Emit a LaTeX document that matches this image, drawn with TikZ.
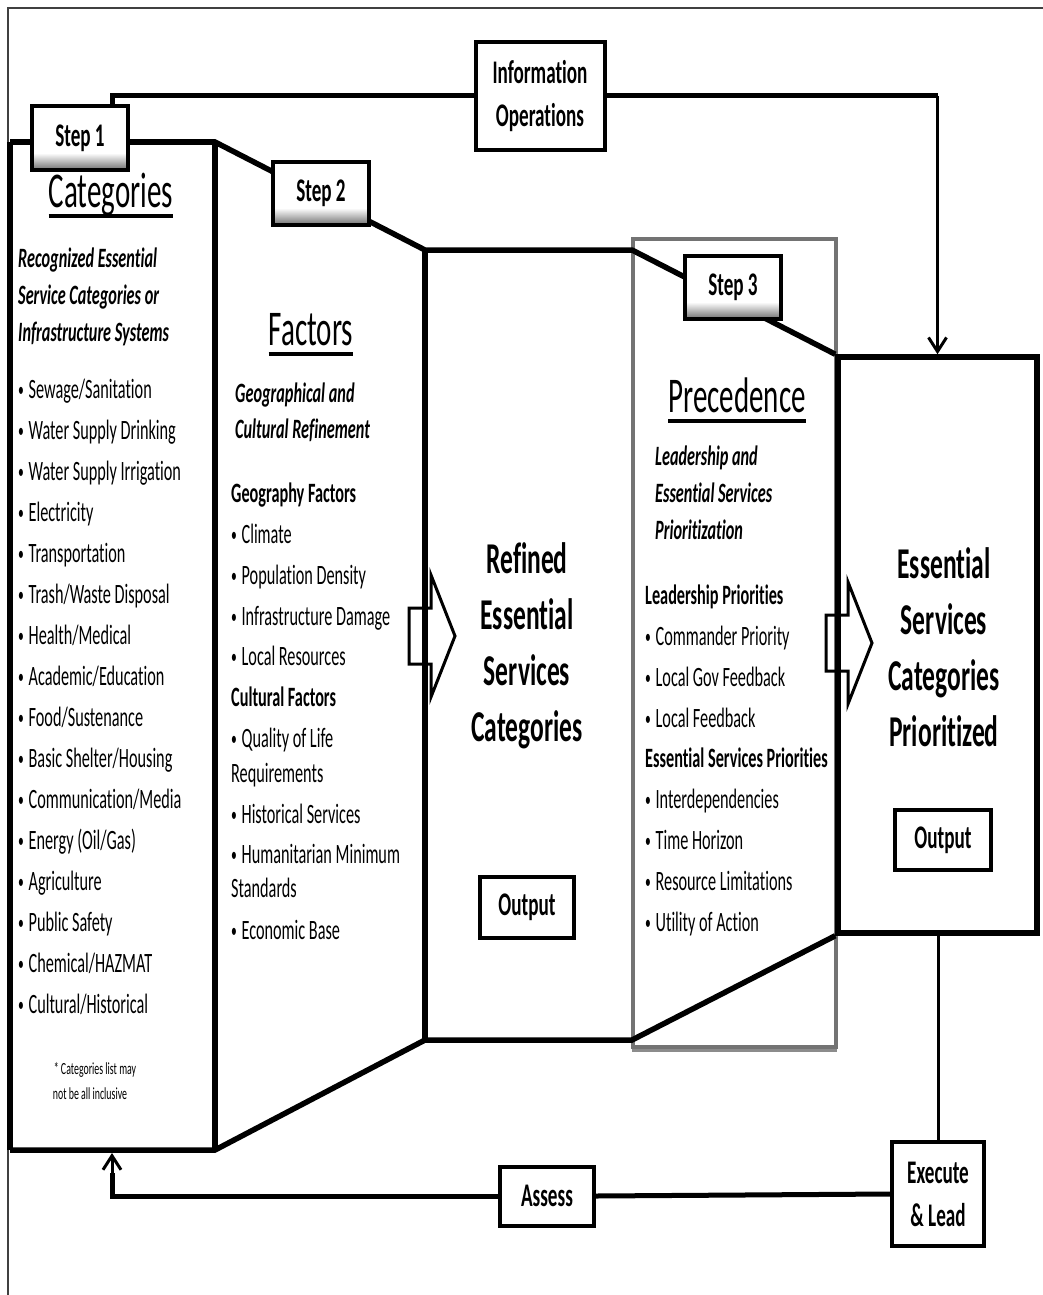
\documentclass[tikz,border=0pt]{standalone}
\usepackage{fontspec}
\setmainfont{Carlito}[FakeStretch=0.58, Ligatures=NoCommon]
\usetikzlibrary{arrows.meta,calc}

\newcommand{\txtbody}{\fontsize{28pt}{34pt}\selectfont}
\newcommand{\txthead}{\fontsize{50pt}{60pt}\selectfont}
\newcommand{\txtbig}{\fontsize{44pt}{56pt}\selectfont\bfseries}
\newcommand{\txtbox}{\fontsize{33pt}{43pt}\selectfont\bfseries}
\newcommand{\txtnote}{\fontsize{17pt}{25pt}\selectfont}
\newcommand{\bul}{{\fontsize{20pt}{20pt}\selectfont\raisebox{1.5pt}{\textbullet}}\,}

% grey fade along the lower edge of the step labels
\pgfdeclareverticalshading{stepshade}{100bp}{color(0bp)=(black!55); color(25bp)=(black!55); color(38bp)=(white); color(100bp)=(white)}

\tikzset{
  panel/.style={line width=5.5pt, line join=miter},
  loopline/.style={line width=5pt},
  thinline/.style={line width=3pt},
  tip/.style={-{Straight Barb[length=14pt,width=18pt]}},
  box/.style={draw, line width=4pt, fill=white, font=\txtbox, align=center, inner sep=0pt},
  stepbox/.style={box, shading=stepshade, shading angle=0, minimum width=96pt, minimum height=63pt},
  item/.style={anchor=base west, inner sep=0pt, font=\txtbody},
  subhead/.style={item, font=\txtbody\bfseries},
  desc/.style={item, font=\txtbody\bfseries\itshape},
  heading/.style={anchor=base, inner sep=0pt, font=\txthead},
  uline/.style={line width=3.5pt},
  blockarrow/.style={line width=3pt, line join=miter},
}

\newcommand{\hollowarrow}[1]{%
  \draw[blockarrow] (#1) ++(0,-27) -- ++(22,0) -- ++(0,-33) -- ++(24,61)
    -- ++(-24,61) -- ++(0,-33) -- ++(-22,0) -- cycle;}

\begin{document}
\begin{tikzpicture}[x=1pt,y=-1pt]
  \useasboundingbox (0,0) rectangle (1043,1295);
  \fill[white] (0,0) rectangle (1043,1295);
  \draw[line width=2pt, black!75] (8,1295) -- (8,8) -- (1043,8);

  % step 3 frame and the last box
  \draw[black!45, line width=4pt] ([yshift=-2pt]734.5,1048) ++(-102.5,0) -- ++(205,0);
  \node[draw=black!55, line width=4pt, minimum width=203pt, minimum height=808pt, inner sep=0pt] (prec) at (734.5,643) {};
  \node[draw, line width=5.5pt, minimum width=199pt, minimum height=576pt, inner sep=0pt] (esc) at (937.5,645) {};

  % funnel outline
  \coordinate (c1) at (10,142);  \coordinate (b1) at (10,1150);
  \coordinate (c2) at (215,142); \coordinate (b2) at (215,1150);
  \coordinate (c3) at (425,250); \coordinate (b3) at (425,1040);
  \coordinate (c4) at (632,250); \coordinate (b4) at (632,1040);
  \draw[panel] (c1) -- (c2) -- (c3) -- (c4) -- (esc.north west);
  \draw[panel] (b1) -- (b2) -- (b3) -- (b4) -- (esc.south west);
  \draw[panel] (c1) -- (b1);
  \draw[panel] (c2) -- (b2);
  \draw[panel] (c3) -- (b3);

  \hollowarrow{409,635}
  \hollowarrow{826,642}

  % step labels
  \node[stepbox] (step1) at (80,138) {Step 1};
  \node[stepbox] (step2) at (321,193) {Step 2};
  \node[stepbox] (step3) at (733,287) {Step 3};

  % categories
  \node[heading] (cathead) at (111,207) {Categories};
  \draw[uline] ([yshift=-9pt]cathead.base west) -- ([yshift=-9pt]cathead.base east);
  \foreach \t [count=\i] in {Recognized Essential, Service Categories or, Infrastructure Systems}
    \node[desc] (catdesc\i) at (18,230+37*\i) {\t};
  \foreach \t [count=\i] in {Sewage/Sanitation, Water Supply Drinking, Water Supply Irrigation,
      Electricity, Transportation, Trash/Waste Disposal, Health/Medical, Academic/Education,
      Food/Sustenance, Basic Shelter/Housing, Communication/Media, Energy (Oil/Gas),
      Agriculture, Public Safety, Chemical/HAZMAT, Cultural/Historical}
    \node[item] (cat\i) at (18,357+41*\i) {\bul\t};
  \node[anchor=base, inner sep=0pt, font=\txtnote] (note1) at (95,1074) {* Categories list may};
  \node[anchor=base, inner sep=0pt, font=\txtnote] (note2) at (90,1099) {not be all inclusive};

  % factors
  \node[heading] (facthead) at (311,345) {Factors};
  \draw[uline] ([yshift=-9pt]facthead.base west) -- ([yshift=-9pt]facthead.base east);
  \node[desc] (factdesc1) at (235,402) {Geographical and};
  \node[desc] (factdesc2) at (235,438) {Cultural Refinement};
  \node[subhead] (geo) at (231,502) {Geography Factors};
  \node[item] (geo1) at (231,543) {\bul Climate};
  \node[item] (geo2) at (231,584) {\bul Population Density};
  \node[item] (geo3) at (231,625) {\bul Infrastructure Damage};
  \node[item] (geo4) at (231,665) {\bul Local Resources};
  \node[subhead] (cult) at (231,706) {Cultural Factors};
  \node[item] (cult1) at (231,747) {\bul Quality of Life};
  \node[item] (cult1b) at (231,782) {Requirements};
  \node[item] (cult2) at (231,823) {\bul Historical Services};
  \node[item] (cult3) at (231,863) {\bul Humanitarian Minimum};
  \node[item] (cult3b) at (231,897) {Standards};
  \node[item] (cult4) at (231,939) {\bul Economic Base};

  % refined categories
  \node[align=center, inner sep=0pt, font=\txtbig] (refined) at (527,646) {Refined\\Essential\\Services\\Categories};
  \node[box, minimum width=94pt, minimum height=61pt] (out1) at (527,907) {Output};

  % precedence
  \node[heading] (prechead) at (737,412) {Precedence};
  \draw[uline] ([yshift=-9pt]prechead.base west) -- ([yshift=-9pt]prechead.base east);
  \foreach \t [count=\i] in {Leadership and, Essential Services, Prioritization}
    \node[desc] (precdesc\i) at (655,428+37*\i) {\t};
  \node[subhead] (lead) at (645,604) {Leadership Priorities};
  \foreach \t [count=\i] in {Commander Priority, Local Gov Feedback, Local Feedback}
    \node[item] (lead\i) at (645,604+41*\i) {\bul\t};
  \node[subhead] (serv) at (645,767) {Essential Services Priorities};
  \foreach \t [count=\i] in {Interdependencies, Time Horizon, Resource Limitations, Utility of Action}
    \node[item] (serv\i) at (645,767+41*\i) {\bul\t};

  % prioritized categories
  \node[align=center, inner sep=0pt, font=\txtbig] (esctext) at (944,647) {Essential\\Services\\Categories\\Prioritized};
  \node[box, minimum width=96pt, minimum height=60pt] (out2) at (943,840) {Output};

  % loops
  \node[box, minimum width=129pt, minimum height=108pt] (info) at (540,96) {Information\\Operations};
  \node[box, minimum width=92pt, minimum height=104pt] (exec) at (938,1194) {Execute\\\& Lead};
  \node[box, minimum width=94pt, minimum height=59pt] (assess) at (547,1196) {Assess};
  \coordinate (tap) at ([xshift=32pt]step1.north);
  \coordinate (catfoot) at (112,1153);
  \draw[loopline] (tap) |- (info.west);
  \draw[loopline] (info.east) -- (info.east -| esc.north);
  \draw[thinline, tip] (info.east -| esc.north) -- (esc.north);
  \draw[thinline] (exec.north |- esc.south) -- (exec.north);
  \draw[loopline] (exec.west) -- (assess.east);
  \draw[loopline] (assess.west) -| ([yshift=-20pt]catfoot);
  \draw[thinline, tip] ([yshift=-20pt]catfoot) -- (catfoot);
\end{tikzpicture}
\end{document}
